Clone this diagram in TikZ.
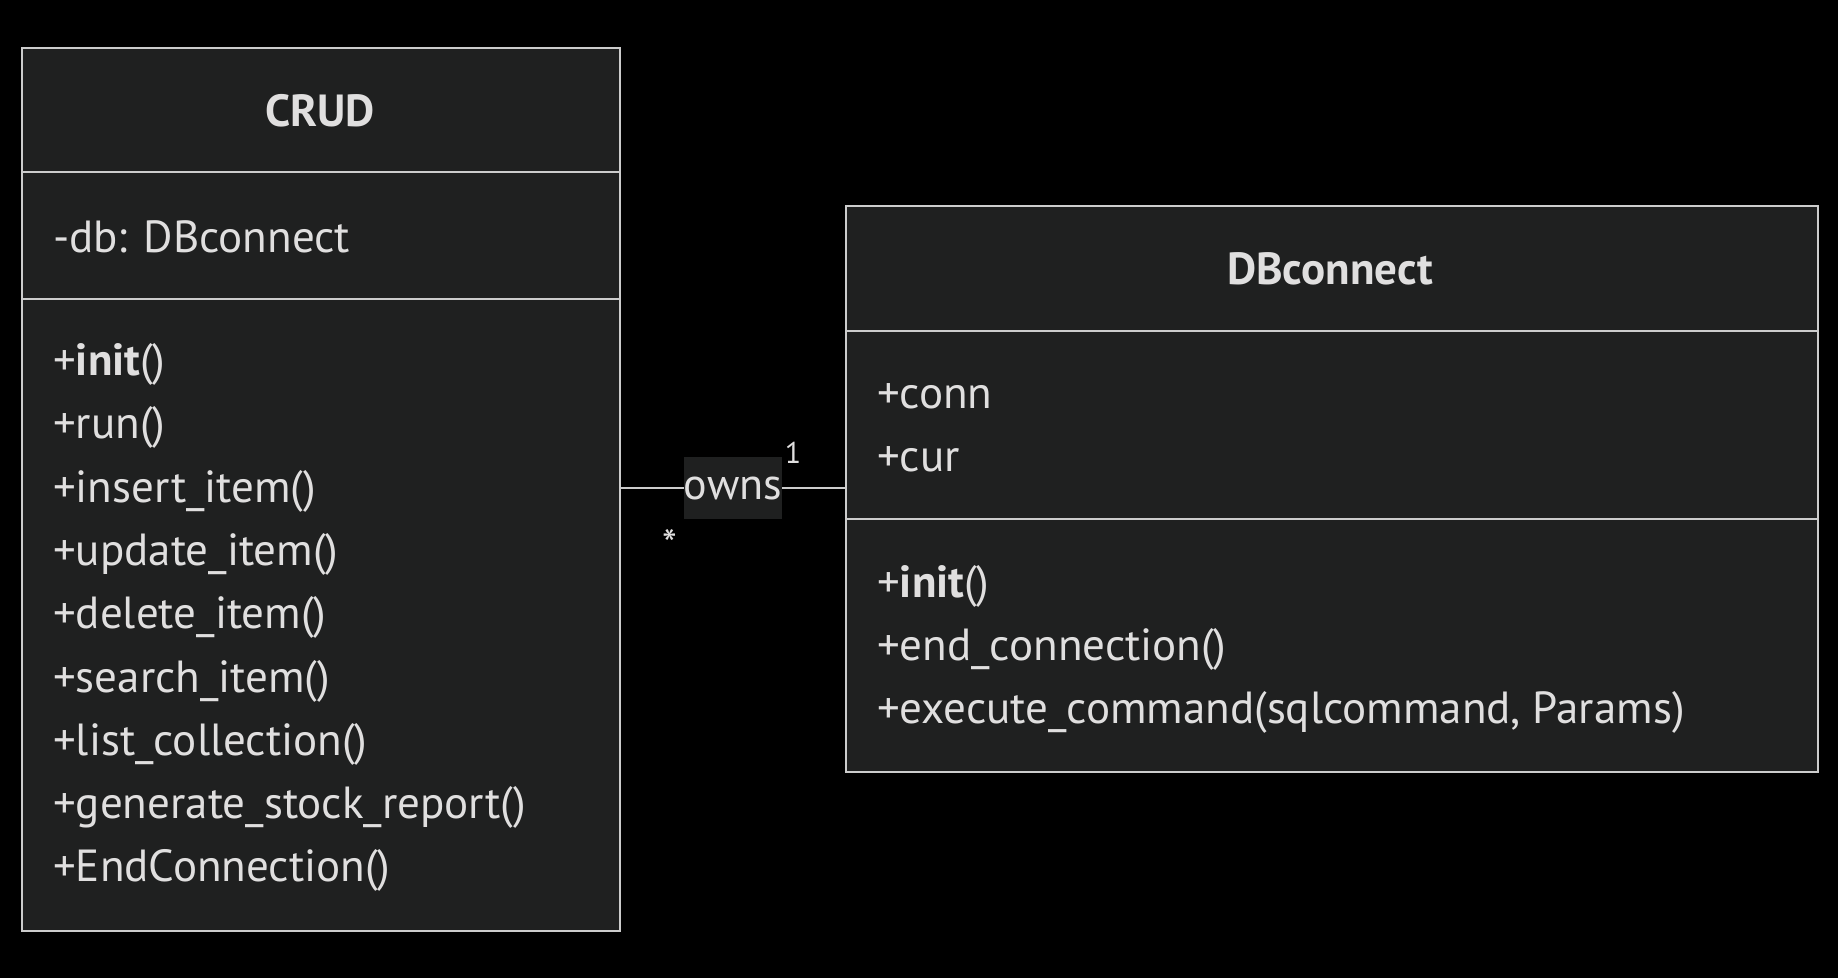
\documentclass[tikz,border=0pt]{standalone}
\usepackage{fontspec}
\setmainfont{PT Sans}
\definecolor{bg}{HTML}{000000}
\definecolor{boxfill}{HTML}{1F2020}
\definecolor{boxline}{HTML}{CCCCCC}
\definecolor{txt}{HTML}{E0DFDF}
\tikzset{
  classbox/.style={draw=boxline, fill=boxfill, line width=2pt, inner sep=0pt, anchor=north west},
  divider/.style={draw=boxline, line width=2pt},
  member/.style={anchor=west, inner sep=0pt, text=txt, font=\fontsize{45}{52}\selectfont},
  title/.style={inner sep=0pt, text=txt, font=\fontsize{45}{52}\selectfont\bfseries},
  conn/.style={draw=boxline, line width=2pt},
  lbl/.style={fill=boxfill, text=txt, inner sep=0pt, minimum width=94pt, minimum height=62pt, font=\fontsize{44}{52}\selectfont},
  mult/.style={text=txt, inner sep=0pt, font=\fontsize{30}{34}\selectfont},
  multstar/.style={text=txt, inner sep=0pt, font=\fontsize{42}{46}\selectfont}
}
\begin{document}
\begin{tikzpicture}[x=1pt,y=-1pt]
\fill[bg] (0,0) rectangle (1838,978);
\useasboundingbox (0,0) rectangle (1838,978);
% CRUD class
\node[classbox, minimum width=598pt, minimum height=883pt] (crud) at (21,47) {};
\draw[divider] (21,172) -- (619,172);
\draw[divider] (21,299) -- (619,299);
\node[title] (crudt) at (320,111) {CRUD};
\node[member] (c0) at (53,237) {-db: DBconnect};
\node[member] (c1) at (53,364) {+\textbf{init}()};
\node[member] (c2) at (53,427) {+run()};
\node[member] (c3) at (53,491) {+insert\_item()};
\node[member] (c4) at (53,554) {+update\_item()};
\node[member] (c5) at (53,617) {+delete\_item()};
\node[member] (c6) at (53,681) {+search\_item()};
\node[member] (c7) at (53,744) {+list\_collection()};
\node[member] (c8) at (53,807) {+generate\_stock\_report()};
\node[member] (c9) at (53,870) {+EndConnection()};
% DBconnect class
\node[classbox, minimum width=972pt, minimum height=566pt] (db) at (845,205) {};
\draw[divider] (845,331) -- (1817,331);
\draw[divider] (845,519) -- (1817,519);
\node[title] (dbt) at (1330,269) {DBconnect};
\node[member] (d1) at (877,396) {+conn};
\node[member] (d2) at (877,459) {+cur};
\node[member] (d3) at (877,586) {+\textbf{init}()};
\node[member] (d4) at (877,649) {+end\_connection()};
\node[member] (d5) at (877,712) {+execute\_command(sqlcommand, Params)};
% relation
\node[lbl] (owns) at (733,488) {owns};
\draw[conn] (crud.east |- owns.center) -- (owns);
\draw[conn] (owns) -- (db.west |- owns.center);
\node[mult] (m1) at (793,453) {1};
\node[multstar] (m2) at (670,544) {*};
\end{tikzpicture}
\end{document}
